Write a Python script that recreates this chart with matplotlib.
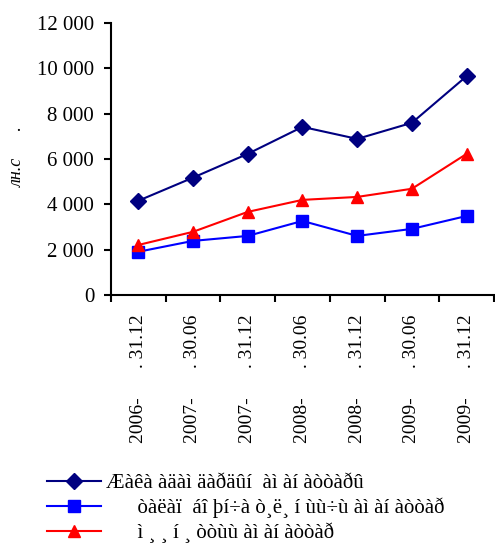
import matplotlib
matplotlib.use("Agg")
import matplotlib.pyplot as plt
import numpy as np
from matplotlib.ticker import FuncFormatter, FixedLocator

plt.rcParams['font.family'] = ['Liberation Serif', 'DejaVu Serif']

dates = ["2006-      . 31.12", "2007-      . 30.06", "2007-      . 31.12", "2008-      . 30.06",
         "2008-      . 31.12", "2009-      . 30.06", "2009-      . 31.12"]
total = [4150, 5170, 6220, 7410, 6880, 7590, 9650]
blue_vals = [1900, 2380, 2600, 3260, 2600, 2910, 3480]
red_vals = [2200, 2780, 3660, 4190, 4320, 4680, 6220]
labels = ["Æàêà àäàì äàðäûí  àì àí àòòàðû",
          "      òàëàï  áî þí÷à ò¸ë¸ í ùù÷ù àì àí àòòàð",
          "      ì ¸ ¸ í ¸ òòùù àì àí àòòàð"]

fig = plt.figure(figsize=(4.95, 5.44), dpi=100)
ax = fig.add_axes([0.224, 0.458, 0.774, 0.5])

x = np.arange(len(dates))
ax.plot(x, total, color='#000080', marker='D', markersize=8, lw=1.5, label=labels[0])
ax.plot(x, blue_vals, color='#0000FF', marker='s', markersize=9, lw=1.5, label=labels[1])
ax.plot(x, red_vals, color='#FF0000', marker='^', markersize=9, lw=1.5, label=labels[2])

ax.set_xlim(-0.5, 6.5)
ax.set_ylim(0, 12000)
ax.set_yticks(range(0, 12001, 2000))
ax.yaxis.set_major_formatter(FuncFormatter(lambda v, p: f"{int(v):,}".replace(",", " ")))
ax.set_xticks(x)
ax.set_xticklabels(dates, rotation=90, fontsize=14)
ax.xaxis.set_minor_locator(FixedLocator(np.arange(-0.5, 7, 1)))
ax.tick_params(axis='x', which='major', length=0, pad=14)
ax.tick_params(axis='x', which='minor', length=5, width=1.5, direction='out')
ax.tick_params(axis='y', length=5, width=1.5, labelsize=15, direction='out', pad=7)

for s in ['top', 'right']:
    ax.spines[s].set_visible(False)
ax.spines['left'].set_linewidth(1.5)
ax.spines['bottom'].set_linewidth(1.5)

fig.text(0.036, 0.713, "лн.с      .", rotation=90, fontsize=13, style='italic', ha='center', va='center')

fig.legend(loc='upper left', bbox_to_anchor=(0.074, 0.148), frameon=False, fontsize=15,
           handlelength=2.6, borderpad=0, labelspacing=0.2, handletextpad=0.25)

fig.savefig("out.png", dpi=100)
